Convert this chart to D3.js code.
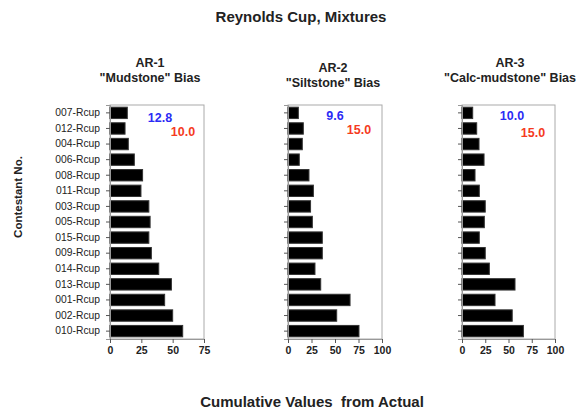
<!DOCTYPE html>
<html>
<head>
<meta charset="utf-8">
<script src="https://cdn.jsdelivr.net/npm/d3@7"></script>
<style>
  body { margin: 0; background: #fff; }
  text { font-family: "Liberation Sans", Arial, sans-serif; fill: #222; }
</style>
</head>
<body>
<div id="chart"></div>
<script>
// contestants, top to bottom
const contestants = ["007-Rcup", "012-Rcup", "004-Rcup", "006-Rcup", "008-Rcup",
  "011-Rcup", "003-Rcup", "005-Rcup", "015-Rcup", "009-Rcup",
  "014-Rcup", "013-Rcup", "001-Rcup", "002-Rcup", "010-Rcup"];

// cumulative bias from actual, one array per sample
const ar1Values = [13.8, 12, 14.6, 19.4, 26, 24.7, 31, 32, 31, 33, 38.9, 49, 43.6, 50, 58];
const ar2Values = [11, 16.3, 15.2, 12, 22.3, 27, 24, 25.9, 36.5, 36.5, 28.7, 34.8, 66, 51.8, 75.5];
const ar3Values = [11.5, 15.8, 18.3, 23.7, 14, 18.6, 25, 24, 18.6, 25, 29.4, 57, 35.5, 54, 66];

const panelNames = ["AR-1", "AR-2", "AR-3"];
const panelSubtitles = ["\"Mudstone\" Bias", "\"Siltstone\" Bias", "\"Calc-mudstone\" Bias"];
const xMax = [75, 100, 100];
const xTicks = [[0, 25, 50, 75], [0, 25, 50, 75, 100], [0, 25, 50, 75, 100]];
const blueNotes = ["12.8", "9.6", "10.0"];
const redNotes = ["10.0", "15.0", "15.0"];

const W = 582, H = 412;
const svg = d3.select("#chart").append("svg")
  .attr("width", W).attr("height", H);

svg.append("rect").attr("width", W).attr("height", H).attr("fill", "#fff");

// panel layout
const panels = [
  { left: 110, right: 204, titleX: 150, titleY: 67, values: ar1Values, blue: [160, 122], red: [183, 136] },
  { left: 288, right: 382, titleX: 333, titleY: 72, values: ar2Values, blue: [335, 120], red: [359, 134] },
  { left: 462, right: 555, titleX: 510, titleY: 67, values: ar3Values, blue: [512, 120], red: [533, 137] }
];
const plotTop = 105, plotBottom = 339;

const y = d3.scaleBand()
  .domain(contestants)
  .range([plotTop, plotBottom])
  .paddingInner(0.27)
  .paddingOuter(0.14);

panels.forEach(function(p, i) {
  const x = d3.scaleLinear()
    .domain([0, xMax[i]])
    .range([p.left, p.right]);

  const g = svg.append("g");

  // frame
  g.append("rect")
    .attr("x", p.left).attr("y", plotTop)
    .attr("width", p.right - p.left).attr("height", plotBottom - plotTop)
    .attr("fill", "none").attr("stroke", "#aaa").attr("stroke-width", 1);

  g.selectAll("rect.bar")
    .data(p.values)
    .enter()
    .append("rect")
      .attr("class", "bar")
      .attr("x", x(0))
      .attr("y", function(d, j) { return y(contestants[j]) })
      .attr("width", function(d) { return x(d) - x(0) })
      .attr("height", y.bandwidth())
      .attr("fill", "#000")
      .attr("stroke", "#333");

  // axes
  const ya = g.append("g")
    .attr("transform", `translate(${p.left},0)`)
    .call(d3.axisLeft(y).tickSize(4).tickPadding(6)
      .tickFormat(i == 0 ? null : ""));
  ya.select(".domain").attr("stroke", "#999");
  ya.selectAll(".tick line").attr("stroke", "#555");
  ya.selectAll("text").style("font-size", "10.3px").attr("fill", "#333");

  const xa = g.append("g")
    .attr("transform", `translate(0,${plotBottom})`)
    .call(d3.axisBottom(x).tickValues(xTicks[i]).tickSize(4).tickPadding(4));
  xa.select(".domain").attr("stroke", "#999");
  xa.selectAll(".tick line").attr("stroke", "#555");
  xa.selectAll("text").style("font-size", "10.5px").style("font-weight", "bold").attr("fill", "#222");

  // titles
  g.append("text")
    .attr("x", p.titleX).attr("y", p.titleY)
    .attr("text-anchor", "middle")
    .style("font-size", "12.5px").style("font-weight", "bold")
    .text(panelNames[i]);
  g.append("text")
    .attr("x", p.titleX).attr("y", p.titleY + 15)
    .attr("text-anchor", "middle")
    .style("font-size", "12.5px").style("font-weight", "bold")
    .text(panelSubtitles[i]);

  // notes
  g.append("text")
    .attr("x", p.blue[0]).attr("y", p.blue[1])
    .attr("text-anchor", "middle")
    .style("font-size", "12.5px").style("font-weight", "bold")
    .style("fill", "#2b2bf5")
    .text(blueNotes[i]);
  g.append("text")
    .attr("x", p.red[0]).attr("y", p.red[1])
    .attr("text-anchor", "middle")
    .style("font-size", "12.5px").style("font-weight", "bold")
    .style("fill", "#f53a1e")
    .text(redNotes[i]);
});

svg.append("text")
  .attr("x", 301).attr("y", 22)
  .attr("text-anchor", "middle")
  .style("font-size", "15px").style("font-weight", "bold")
  .text("Reynolds Cup, Mixtures");

svg.append("text")
  .attr("transform", "translate(22,197)rotate(-90)")
  .attr("text-anchor", "middle")
  .style("font-size", "11.5px").style("font-weight", "bold")
  .text("Contestant No.");

svg.append("text")
  .attr("x", 312).attr("y", 407)
  .attr("text-anchor", "middle")
  .attr("xml:space", "preserve")
  .style("font-size", "15px").style("font-weight", "bold")
  .style("white-space", "pre")
  .text("Cumulative Values  from Actual");
</script>
</body>
</html>
